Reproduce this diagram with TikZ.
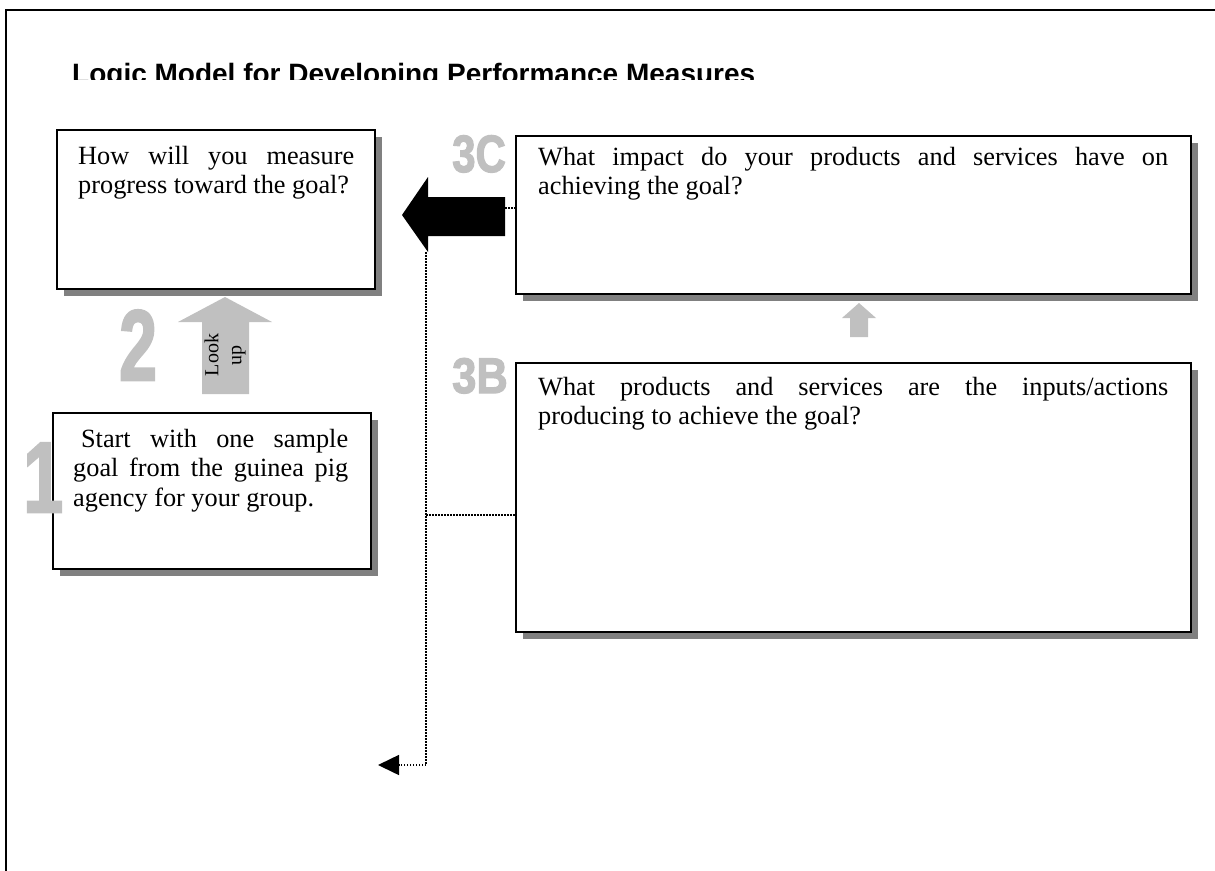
\documentclass[tikz,border=0pt]{standalone}
\usepackage{fontspec}
\setmainfont{Liberation Serif}
\newfontfamily\arialfont{Liberation Sans}
\newfontfamily\numfont{Liberation Sans}[UprightFont={* Bold}, FakeBold=2.5]
\usetikzlibrary{shadows,arrows.meta}
\definecolor{numgray}{HTML}{C0C0C0}
\definecolor{shgray}{HTML}{808080}
\hyphenpenalty=10000
\exhyphenpenalty=10000
\newcommand\bxfont{\fontsize{26.3}{29.5}\selectfont\fontdimen4\font=0pt }
\begin{document}
\begin{tikzpicture}[x=1pt,y=-1pt,
  box/.style={draw=black, line width=2pt, fill=white, inner sep=0pt, anchor=north west,
    general shadow={fill=shgray, shadow xshift=7pt, shadow yshift=-7pt}},
  boxtext/.style={inner sep=0pt, anchor=north west, align=justify, font=\bxfont},
  bignum/.style={inner sep=0pt, anchor=base west, text=numgray,
    font=\numfont\fontsize{100}{100}\selectfont},
  midnum/.style={inner sep=0pt, anchor=base west, text=numgray,
    font=\numfont\fontsize{50}{50}\selectfont},
  dotline/.style={draw=black, line width=1.5pt, dash pattern=on 1.5pt off 1.5pt},
]
\useasboundingbox (0,0) rectangle (1215,870);
% frame
\draw[line width=2pt] (6,880) -- (6,10) -- (1225,10);
% title (clipped)
\begin{scope}
\clip (0,0) rectangle (1215,79);
\node[anchor=base west, inner sep=0pt, font=\arialfont\bfseries\fontsize{28}{32}\selectfont] (title) at (72,83) {Logic Model for Developing Performance Measures};
\end{scope}
% boxes
\node[box, minimum width=318pt, minimum height=159pt] (boxA) at (56,129) {};
\node[box, minimum width=318pt, minimum height=156pt] (boxB) at (52,412) {};
\node[box, minimum width=675pt, minimum height=158pt] (boxC) at (515,135) {};
\node[box, minimum width=675pt, minimum height=269pt] (boxD) at (515,362) {};
% texts
\node[boxtext, text width=276pt] (tA) at (78,146) {How will you measure\linebreak progress toward the goal?};
\node[boxtext, text width=275pt] (tB) at (73,429) {\hspace*{0.3em}Start with one sample\linebreak goal from the guinea pig\linebreak agency for your group.};
\node[boxtext, text width=630pt] (tC) at (538,147) {What impact do your products and services have on\linebreak achieving the goal?};
\node[boxtext, text width=630pt] (tD) at (538,377) {What products and services are the inputs/actions\linebreak producing to achieve the goal?};
% gray up arrows
\fill[numgray] (202,394) -- (202,322) -- (178,322) -- (225,297) -- (272,322) -- (249,322) -- (249,394) -- cycle;
\node[rotate=90, align=center, inner sep=0pt, font=\fontsize{20}{23}\selectfont] (lookup) at (225,355) {Look\\up};
\fill[numgray] (850,337) -- (850,318) -- (842,318) -- (859,303) -- (876,318) -- (868,318) -- (868,337) -- cycle;
% black left arrow
\fill[black] (505,197) -- (428,197) -- (428,177) -- (402,215) -- (428,252) -- (428,236) -- (505,236) -- cycle;
% numbers
\node[bignum] (n1) at (23,512) {\scalebox{0.72}[1]{1}};
\node[bignum] (n2) at (119,380) {\scalebox{0.68}[1]{2}};
\node[midnum] (n3c) at (452,172) {\scalebox{0.84}[1.05]{3C}};
\node[midnum] (n3b) at (452,393) {\scalebox{0.87}[1]{3B}};
% dotted connectors
\coordinate (arE) at (505,208);
\draw[dotline] (arE) -- (arE -| boxC.west);
\coordinate (arB) at (426,252);
\coordinate (turn) at (426,765);
\coordinate (endp) at (378,765);
\draw[dotline, -{Triangle[length=21pt,width=20pt]}] (arB) -- (turn) -- (endp);
\coordinate (branch) at (426,515);
\draw[dotline] (branch) -- (branch -| boxD.west);
\end{tikzpicture}
\end{document}
